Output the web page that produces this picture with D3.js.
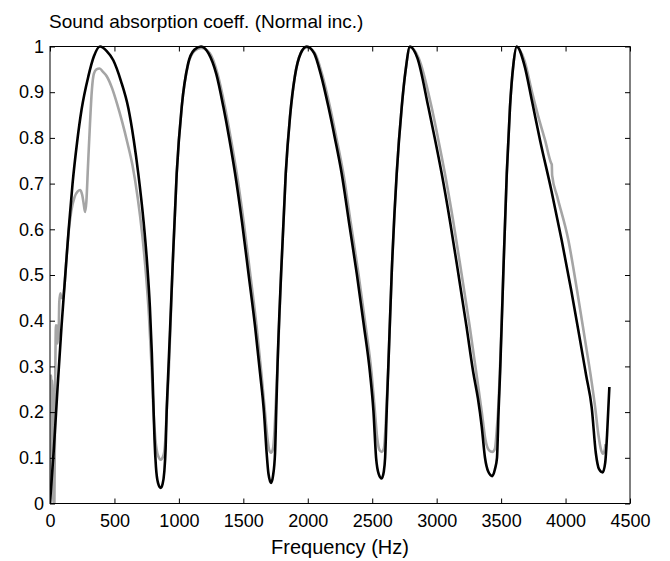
<!DOCTYPE html>
<meta charset="utf-8">
<style>
body { margin: 0; background: #fff; }
svg { display: block; }
.tick text { font: 18px "Liberation Sans", Arial, sans-serif; fill: #000; }
.tick line { stroke: #000; }
.label { font: 19px "Liberation Sans", Arial, sans-serif; fill: #000; }
</style>
<body>
<script src="https://cdn.jsdelivr.net/npm/d3@7"></script>
<script>

// tick values
var xTicks = [0, 500, 1000, 1500, 2000, 2500, 3000, 3500, 4000, 4500];
var yTicks = [0, 0.1, 0.2, 0.3, 0.4, 0.5, 0.6, 0.7, 0.8, 0.9, 1];

// theory curve (black)
var theoryFreq = [0, 30, 59, 90, 116, 145, 175, 210, 245, 297, 340, 388,
  440, 491, 550, 608, 650, 685, 725, 755, 775, 790, 801, 811, 822, 838, 859, 873, 887, 897, 905, 915, 930, 949, 983, 1022, 1071, 1120, 1172,
  1230, 1290, 1345, 1390, 1436, 1490, 1540, 1590, 1630, 1660, 1681, 1695, 1715, 1730, 1746, 1755, 1765, 1793, 1829, 1862, 1900, 1945, 1992,
  2050, 2100, 2160, 2210, 2263, 2320, 2380, 2435, 2483, 2509, 2530, 2550, 2573, 2590, 2600, 2612, 2625, 2651, 2690, 2729, 2760, 2793,
  2850, 2935, 2985, 3039, 3105, 3168, 3230, 3285, 3320, 3349, 3375, 3400, 3432, 3452, 3468, 3480, 3492, 3517, 3544, 3569, 3595, 3621,
  3680, 3740, 3802, 3890, 3970, 4045, 4112, 4160, 4203, 4235, 4260, 4288, 4308, 4322, 4340];
var theoryAlpha = [0, 0.12, 0.255, 0.39, 0.49, 0.6, 0.7, 0.79, 0.862, 0.934, 0.978, 1.0,
  0.99, 0.97, 0.925, 0.865, 0.795, 0.722, 0.62, 0.52, 0.43, 0.33, 0.23, 0.14, 0.08, 0.045, 0.034, 0.042, 0.07, 0.12, 0.2, 0.27, 0.37, 0.503, 0.722, 0.868, 0.962, 0.993, 1.0,
  0.985, 0.94, 0.868, 0.8, 0.722, 0.615, 0.503, 0.39, 0.285, 0.2, 0.11, 0.065, 0.045, 0.06, 0.11, 0.2, 0.3, 0.503, 0.722, 0.846, 0.935, 0.985, 1.0,
  0.985, 0.94, 0.868, 0.8, 0.722, 0.615, 0.503, 0.39, 0.285, 0.204, 0.1, 0.065, 0.055, 0.07, 0.1, 0.2, 0.3, 0.503, 0.722, 0.868, 0.95, 1.0,
  0.975, 0.868, 0.8, 0.722, 0.615, 0.503, 0.39, 0.285, 0.23, 0.17, 0.1, 0.07, 0.06, 0.075, 0.1, 0.2, 0.285, 0.503, 0.722, 0.868, 0.96, 1.0,
  0.96, 0.88, 0.795, 0.685, 0.576, 0.465, 0.358, 0.28, 0.21, 0.11, 0.075, 0.068, 0.09, 0.15, 0.255];

var measFreq = [0, 4, 8, 12, 16, 20, 24, 28, 34, 40, 46, 50, 54, 58, 62, 66, 72, 80, 88, 100, 116, 130, 145,
  165, 190, 215, 235, 250, 262, 272, 282, 295, 310, 325, 340, 360, 385, 410,
  440, 480, 520, 560, 600, 640, 680, 715, 745, 768, 788, 803, 818, 838, 859, 880, 895, 905, 923, 949, 983, 1022, 1071, 1120, 1172,
  1240, 1300, 1357, 1402, 1449, 1503, 1553, 1602, 1640, 1668, 1688, 1700, 1715, 1730, 1742, 1752, 1765, 1793, 1829, 1862, 1900, 1945, 1992,
  2055, 2110, 2172, 2222, 2276, 2333, 2393, 2448, 2495, 2520, 2540, 2555, 2573, 2590, 2602, 2612, 2625, 2651, 2690, 2729, 2760, 2793,
  2860, 2960, 3010, 3064, 3130, 3193, 3255, 3308, 3350, 3378, 3405, 3432, 3452, 3466, 3480, 3492, 3517, 3544, 3569, 3595, 3621,
  3680, 3740, 3800, 3841, 3888, 3893, 3896, 3935, 4022, 4090, 4151, 4195, 4229, 4255, 4275, 4290, 4302, 4310];
var measAlpha = [0, 0.2, 0.28, 0.12, 0.27, 0.25, 0.04, 0.0, 0.0, 0.25, 0.39, 0.36, 0.39, 0.35, 0.37, 0.36, 0.44, 0.46, 0.45, 0.45, 0.49, 0.545, 0.595,
  0.64, 0.67, 0.683, 0.686, 0.675, 0.655, 0.638, 0.66, 0.74, 0.83, 0.905, 0.94, 0.95, 0.952, 0.945,
  0.935, 0.91, 0.875, 0.835, 0.79, 0.74, 0.67, 0.59, 0.5, 0.41, 0.3, 0.2, 0.14, 0.105, 0.096, 0.105, 0.14, 0.2, 0.3, 0.503, 0.722, 0.868, 0.96, 0.99, 0.997,
  0.985, 0.94, 0.868, 0.8, 0.722, 0.615, 0.503, 0.39, 0.285, 0.2, 0.14, 0.118, 0.111, 0.12, 0.16, 0.22, 0.3, 0.503, 0.722, 0.846, 0.935, 0.985, 0.998,
  0.985, 0.94, 0.868, 0.8, 0.722, 0.615, 0.503, 0.39, 0.285, 0.204, 0.14, 0.118, 0.113, 0.12, 0.16, 0.22, 0.3, 0.503, 0.722, 0.868, 0.95, 0.998,
  0.975, 0.868, 0.8, 0.722, 0.615, 0.503, 0.39, 0.285, 0.2, 0.14, 0.117, 0.113, 0.12, 0.16, 0.22, 0.3, 0.503, 0.722, 0.868, 0.96, 0.998,
  0.97, 0.9, 0.835, 0.795, 0.745, 0.742, 0.718, 0.672, 0.576, 0.465, 0.358, 0.28, 0.212, 0.15, 0.118, 0.109, 0.115, 0.13];

var width = 670, height = 561;
// plot box edges (named so they do not clash with window.top)
var boxLeft = 50, boxRight = 630, boxTop = 46.5, boxBottom = 503.5;

var svg = d3.select("body").append("svg")
    .attr("width", width)
    .attr("height", height);

var x = d3.scaleLinear().domain([0, 4500]).range([boxLeft, boxRight]);
var y = d3.scaleLinear().domain([0, 1]).range([boxBottom, boxTop]);

// clip so the lines stay inside the box
svg.append("clipPath").attr("id", "plotclip")
  .append("rect")
    .attr("x", boxLeft).attr("y", boxTop - 2)
    .attr("width", boxRight - boxLeft).attr("height", boxBottom - boxTop + 2);

var line = d3.line()
    .x(function(d) { return x(d[0]); })
    .y(function(d) { return y(d[1]); })
    .curve(d3.curveMonotoneX);

var measured = d3.zip(measFreq, measAlpha);
var theory = d3.zip(theoryFreq, theoryAlpha);

var plot = svg.append("g").attr("clip-path", "url(#plotclip)");

plot.append("path")
    .datum(measured)
    .attr("d", line)
    .attr("fill", "none")
    .attr("stroke", "#a5a5a5")
    .attr("stroke-width", 2.6)
    .attr("stroke-linejoin", "round");

plot.append("path")
    .datum(theory)
    .attr("d", line)
    .attr("fill", "none")
    .attr("stroke", "#000")
    .attr("stroke-width", 2.6)
    .attr("stroke-linejoin", "round");

// axes, ticks pointing inwards like matlab
svg.append("g")
    .attr("transform", "translate(0," + boxBottom + ")")
    .call(d3.axisBottom(x).tickValues(xTicks).tickSizeInner(-5).tickSizeOuter(0).tickPadding(11).tickFormat(d3.format("d")))
    .call(function(g) { g.select(".domain").remove(); });

svg.append("g")
    .attr("transform", "translate(0," + boxTop + ")")
    .call(d3.axisTop(x).tickValues(xTicks).tickSizeInner(-5).tickSizeOuter(0).tickFormat(""))
    .call(function(g) { g.select(".domain").remove(); });

svg.append("g")
    .attr("transform", "translate(" + boxLeft + ",0)")
    .call(d3.axisLeft(y).tickValues(yTicks).tickSizeInner(-5).tickSizeOuter(0).tickPadding(6).tickFormat(function(d) { return d3.format("~g")(d); }))
    .call(function(g) { g.select(".domain").remove(); });

svg.append("g")
    .attr("transform", "translate(" + boxRight + ",0)")
    .call(d3.axisRight(y).tickValues(yTicks).tickSizeInner(-5).tickSizeOuter(0).tickFormat(""))
    .call(function(g) { g.select(".domain").remove(); });

// the box
svg.append("rect")
    .attr("x", boxLeft).attr("y", boxTop)
    .attr("width", boxRight - boxLeft).attr("height", boxBottom - boxTop)
    .attr("fill", "none")
    .attr("stroke", "#000")
    .attr("stroke-width", 1);

// title and x label
svg.append("text")
    .attr("class", "label")
    .attr("x", 49).attr("y", 28)
    .text("Sound absorption coeff. (Normal inc.)");

svg.append("text")
    .attr("class", "label")
    .attr("x", (boxLeft + boxRight) / 2).attr("y", 554)
    .attr("text-anchor", "middle")
    .style("font-size", "20px")
    .text("Frequency (Hz)");

</script>
</body>
